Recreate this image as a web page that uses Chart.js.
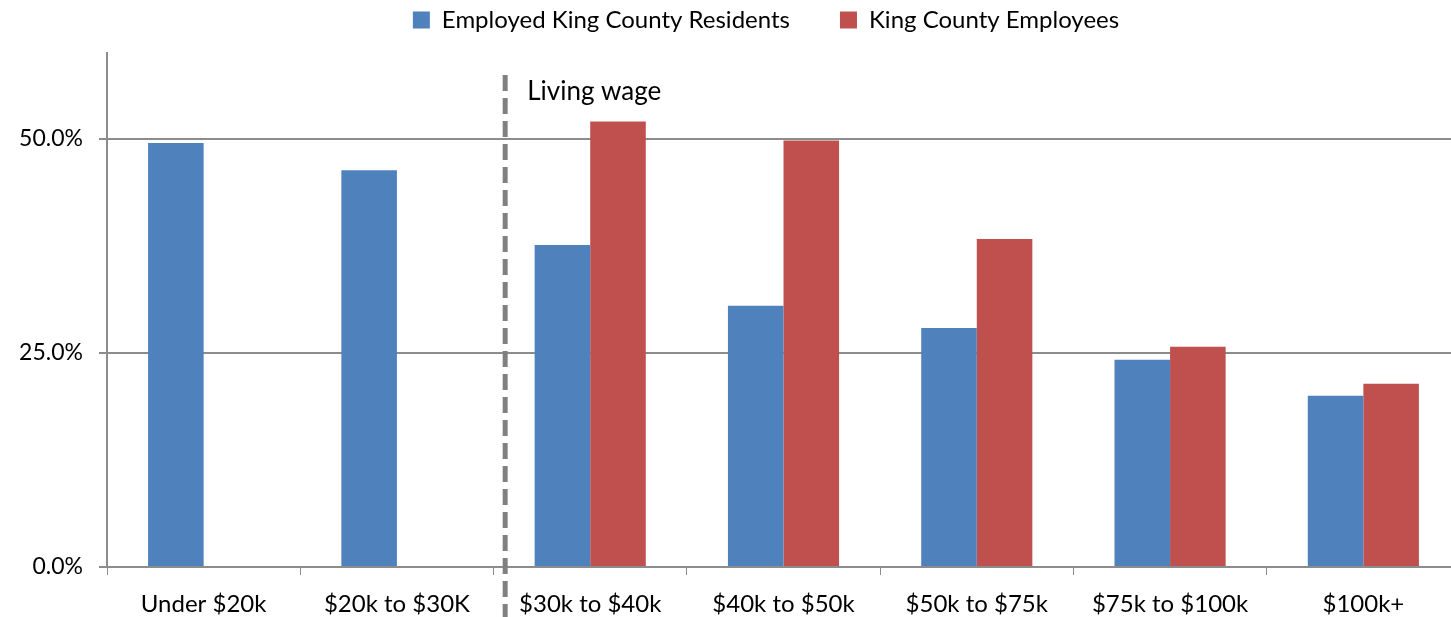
<!DOCTYPE html>
<html lang="en">
<head>
    <meta charset="UTF-8">
    <title>King County Wages</title>
    <script src="https://cdn.jsdelivr.net/npm/chart.js"></script>
    <style>
        html, body {
            margin: 0;
            padding: 0;
            background: #fff;
            overflow: hidden;
        }
        .chart-box {
            width: 1460px;
            height: 617px;
        }
    </style>
</head>
<body>
    <div class="chart-box">
        <canvas id="wageChart"></canvas>
    </div>

    <script>
        const categories = ['Under $20k', '$20k to $30K', '$30k to $40k', '$40k to $50k', '$50k to $75k', '$75k to $100k', '$100k+'];
        const residents = [49.5, 46.3, 37.6, 30.5, 27.9, 24.2, 20.0];
        const employees = [null, null, 52.0, 49.8, 38.3, 25.7, 21.4];
        const yTicks = [0, 25, 50];

        const fontFamily = 'Lato, "Open Sans", sans-serif';
        const gray = '#8c8c8c';

        // dashed "living wage" marker between the 2nd and 3rd category
        const livingWage = {
            id: 'livingWage',
            afterDatasetsDraw(chart) {
                const ctx = chart.ctx;
                const x = chart.scales.x.getPixelForValue(1.56);
                ctx.save();
                ctx.strokeStyle = '#808080';
                ctx.lineWidth = 5;
                ctx.setLineDash([16, 7]);
                ctx.beginPath();
                ctx.moveTo(x, 75);
                ctx.lineTo(x, chart.height);
                ctx.stroke();
                ctx.setLineDash([]);
                ctx.fillStyle = '#000';
                ctx.font = '26px ' + fontFamily;
                ctx.textBaseline = 'middle';
                ctx.fillText('Living wage', x + 22, 92);
                ctx.restore();
            }
        };

        // make room under the legend so the plot starts lower,
        // and nudge it right to sit over the plot area
        const legendGap = {
            id: 'legendGap',
            beforeInit(chart) {
                const fit = chart.legend.fit;
                chart.legend.fit = function () {
                    fit.call(this);
                    this.height = 95;
                };
            },
            afterLayout(chart) {
                chart.legend.left += 36;
                chart.legend.right += 36;
            }
        };

        new Chart(document.getElementById('wageChart'), {
            type: 'bar',
            data: {
                labels: categories,
                datasets: [
                    { label: 'Employed King County Residents', data: residents, backgroundColor: '#4F81BD' },
                    { label: 'King County Employees', data: employees, backgroundColor: '#C0504D' }
                ]
            },
            options: {
                responsive: true,
                maintainAspectRatio: false,
                animation: false,
                categoryPercentage: 0.575,
                barPercentage: 1,
                layout: { padding: { top: -42, right: 0, left: 0, bottom: 0 } },
                plugins: {
                    legend: {
                        position: 'top',
                        labels: {
                            font: { family: fontFamily, size: 24 },
                            color: '#000',
                            boxWidth: 17,
                            boxHeight: 17,
                            padding: 50
                        }
                    },
                    tooltip: { enabled: false }
                },
                scales: {
                    x: {
                        grid: { drawOnChartArea: false, color: gray, tickLength: 8, offset: true },
                        border: { color: gray, width: 2 },
                        ticks: { font: { family: fontFamily, size: 24 }, color: '#000', padding: 15 },
                        afterFit(scale) { scale.height = 50; }
                    },
                    y: {
                        min: 0,
                        max: 60,
                        afterBuildTicks(scale) { scale.ticks = yTicks.map(v => ({ value: v })); },
                        grid: { color: gray, lineWidth: 2, tickLength: 8 },
                        border: { color: gray, width: 2 },
                        ticks: {
                            font: { family: fontFamily, size: 23 },
                            color: '#000',
                            padding: 16,
                            callback: v => v.toFixed(1) + '%'
                        },
                        afterFit(scale) { scale.width = 107; }
                    }
                }
            },
            plugins: [livingWage, legendGap]
        });
    </script>
</body>
</html>
